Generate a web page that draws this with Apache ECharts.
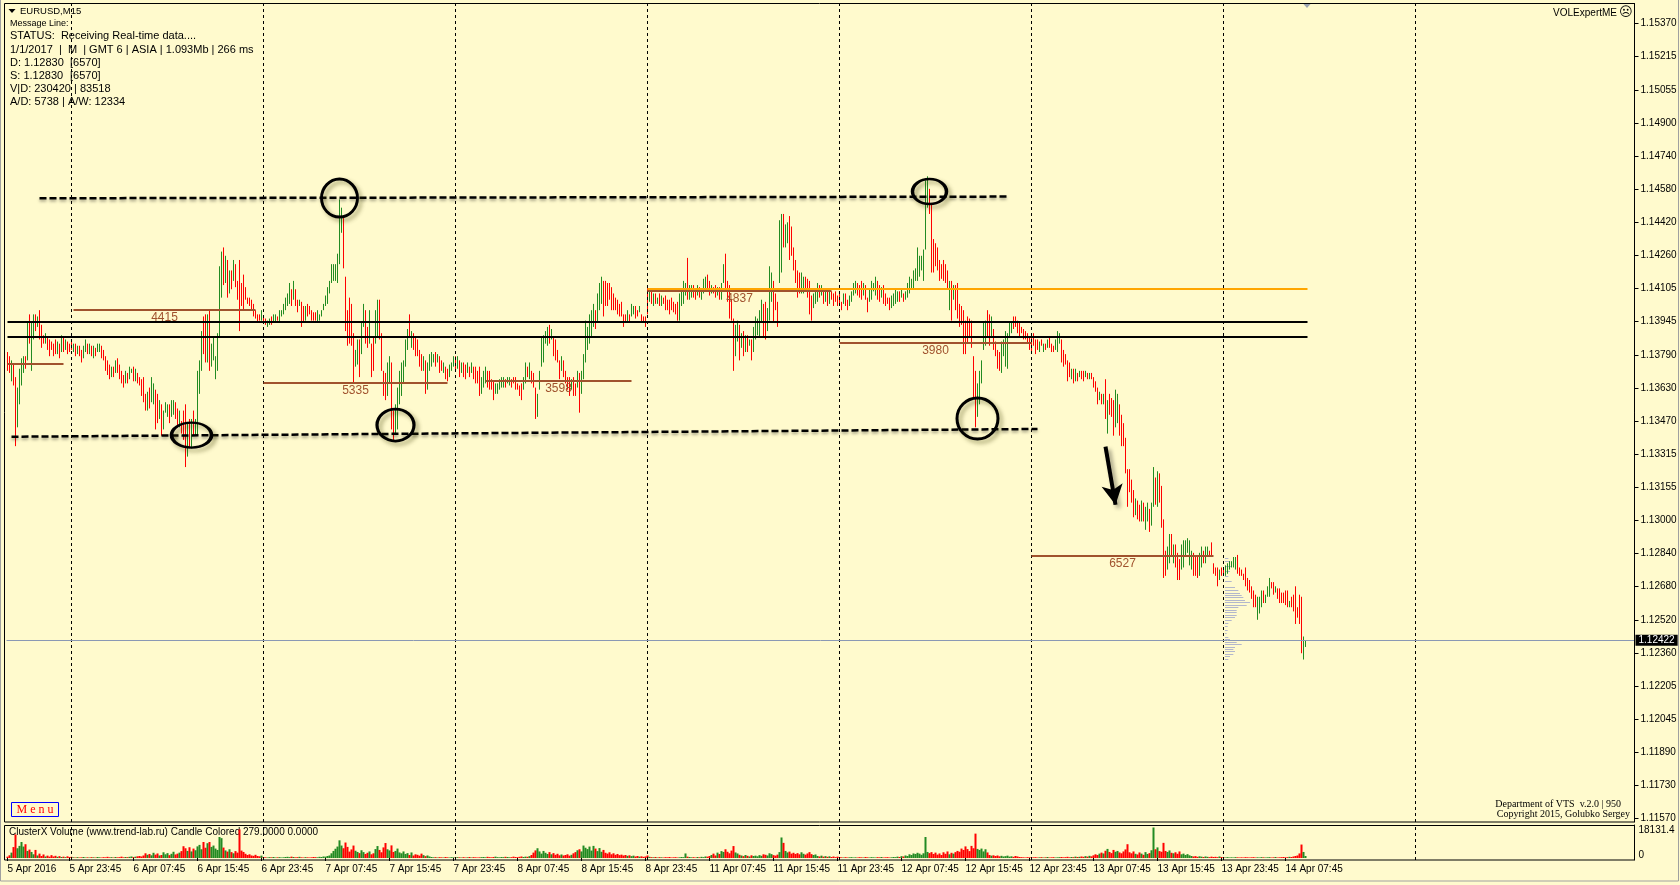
<!DOCTYPE html>
<html><head><meta charset="utf-8">
<script src="https://cdn.jsdelivr.net/npm/echarts/dist/echarts.min.js"></script>
<style>html,body{margin:0;padding:0;background:#FFFACD;overflow:hidden}#c{width:1680px;height:885px}</style>
</head><body><div id="c"></div>
<script>
// ---------- DATA ----------
// right-axis tick labels, bottom to top
const priceTickLabels = ['1.11570','1.11730','1.11890','1.12045','1.12205','1.12360','1.12520','1.12680','1.12840','1.13000','1.13155','1.13315','1.13470','1.13630','1.13790','1.13945','1.14105','1.14260','1.14420','1.14580','1.14740','1.14900','1.15055','1.15215','1.15370'];
// time-axis labels shown under the volume panel
const timeLabels = ['5 Apr 2016','5 Apr 23:45','6 Apr 07:45','6 Apr 15:45','6 Apr 23:45','7 Apr 07:45','7 Apr 15:45','7 Apr 23:45','8 Apr 07:45','8 Apr 15:45','8 Apr 23:45','11 Apr 07:45','11 Apr 15:45','11 Apr 23:45','12 Apr 07:45','12 Apr 15:45','12 Apr 23:45','13 Apr 07:45','13 Apr 15:45','13 Apr 23:45','14 Apr 07:45'];
const firstBarTime = '2016-04-05T16:00:00Z';
const lastSeparatorDay = '15 Apr';
const priceBase = 1.12000; // candle values below are in pips above this
// M15 candles: [open, close] in pips above 1.12000
const candlesOC = [
[180,171],[178,170],[166,176],[174,164],[168,135],[144,163],[155,172],[164,177],[170,178],[178,172],
[176,194],[198,184],[171,194],[186,198],[198,190],[192,197],[200,186],[193,182],[188,184],[184,189],
[187,181],[186,178],[185,181],[184,178],[186,179],[179,185],[184,177],[180,188],[187,180],[181,186],
[185,179],[184,180],[186,181],[180,184],[184,178],[179,183],[183,178],[181,175],[177,183],[180,186],
[184,179],[179,184],[183,178],[177,183],[182,178],[180,184],[180,184],[183,177],[181,176],[178,171],
[176,169],[174,167],[168,173],[173,168],[170,176],[177,170],[174,167],[171,165],[169,163],[165,171],
[170,165],[167,173],[170,172],[173,166],[166,172],[170,165],[168,164],[167,159],[168,156],[160,152],
[152,161],[163,153],[156,168],[155,165],[162,143],[160,146],[148,157],[155,140],[143,152],[151,156],
[149,155],[155,146],[149,157],[150,157],[156,148],[153,144],[144,152],[147,141],[152,138],[155,125],
[130,146],[148,134],[134,148],[152,140],[140,148],[140,171],[160,176],[171,190],[197,179],[198,175],
[175,198],[200,171],[173,184],[176,187],[167,178],[171,189],[187,221],[206,228],[230,212],[213,226],
[224,206],[208,219],[219,210],[214,224],[222,211],[214,205],[224,190],[213,202],[217,200],[211,205],
[206,203],[206,202],[205,200],[203,197],[200,196],[198,194],[198,195],[195,200],[197,194],[196,193],
[192,195],[193,196],[197,193],[194,198],[194,198],[197,195],[194,200],[197,200],[198,203],[200,206],
[202,208],[203,213],[210,202],[205,214],[210,202],[205,199],[202,205],[204,192],[202,194],[195,202],
[203,197],[202,198],[200,195],[199,195],[199,195],[194,200],[195,198],[197,200],[200,203],[202,207],
[203,211],[208,214],[213,222],[214,222],[214,222],[213,227],[222,253],[237,249],[244,220],[216,190],
[200,183],[206,184],[203,183],[189,165],[173,181],[174,186],[186,168],[179,194],[192,203],[200,184],
[192,182],[184,200],[184,168],[187,171],[184,200],[187,205],[205,186],[189,171],[171,159],[170,157],
[159,175],[165,178],[175,143],[152,138],[141,155],[143,163],[155,171],[159,175],[165,176],[173,186],
[181,191],[198,187],[182,190],[189,181],[187,178],[186,178],[181,173],[179,171],[171,178],[176,160],
[162,175],[171,179],[173,180],[175,179],[180,173],[175,179],[178,170],[176,171],[170,175],[173,167],
[172,166],[168,174],[171,175],[173,178],[178,171],[172,178],[176,168],[170,175],[175,168],[174,167],
[170,175],[173,168],[170,175],[173,167],[173,165],[171,165],[173,159],[160,168],[163,171],[165,173],
[171,163],[171,162],[167,162],[166,157],[160,165],[160,165],[162,167],[163,168],[163,168],[167,163],
[165,168],[164,168],[167,163],[168,165],[168,162],[165,162],[164,159],[165,157],[162,168],[165,175],
[173,168],[167,175],[171,165],[170,163],[163,148],[149,160],[162,171],[173,187],[175,188],[184,190],
[183,192],[193,184],[186,191],[187,178],[186,176],[181,175],[176,167],[171,178],[176,168],[171,165],
[168,162],[168,159],[162,167],[168,159],[165,159],[163,171],[170,151],[160,171],[167,179],[175,195],
[181,192],[184,198],[187,200],[192,203],[200,191],[194,208],[200,213],[203,216],[214,197],[214,202],
[213,202],[213,205],[211,200],[208,200],[206,200],[205,198],[203,197],[204,197],[198,192],[198,194],
[194,200],[198,194],[197,203],[198,202],[202,196],[200,197],[199,202],[198,194],[197,194],[197,192],
[212,198],[204,209],[209,203],[202,208],[208,203],[203,206],[208,202],[202,207],[206,203],[207,200],
[205,200],[205,198],[206,200],[204,199],[203,198],[204,195],[195,208],[202,209],[203,214],[207,213],
[225,205],[205,212],[206,212],[212,206],[210,205],[207,212],[211,206],[205,210],[208,215],[209,216],
[217,210],[214,207],[208,212],[211,208],[212,206],[207,211],[211,205],[205,213],[213,222],[227,210],
[214,204],[212,196],[205,195],[196,171],[178,193],[185,195],[193,176],[182,189],[190,178],[180,188],
[188,180],[183,186],[186,176],[180,192],[186,197],[188,196],[187,200],[194,205],[203,187],[204,186],
[190,201],[195,221],[204,218],[214,194],[208,200],[204,192],[213,243],[218,246],[246,230],[230,241],
[232,242],[245,224],[240,226],[230,219],[224,213],[219,206],[218,208],[208,218],[208,216],[216,209],
[215,206],[214,198],[207,195],[201,208],[203,210],[204,213],[212,206],[207,212],[209,203],[204,209],
[209,202],[203,209],[209,205],[208,202],[209,204],[207,202],[209,203],[204,200],[203,208],[208,202],
[205,200],[202,207],[204,209],[207,213],[208,214],[213,207],[212,206],[214,205],[207,213],[212,205],
[206,199],[204,210],[205,214],[209,213],[207,216],[214,205],[212,204],[206,211],[212,203],[208,202],
[206,203],[206,200],[201,207],[202,208],[203,210],[204,209],[209,204],[206,210],[208,204],[205,209],
[206,213],[208,216],[210,215],[210,219],[214,220],[214,230],[216,226],[219,226],[214,229],[229,262],
[249,264],[258,246],[251,218],[234,218],[232,221],[230,219],[224,214],[222,215],[224,214],[222,213],
[219,210],[200,214],[214,195],[205,212],[212,200],[213,196],[203,192],[202,193],[200,179],[195,179],
[197,184],[196,187],[195,182],[178,158],[171,144],[149,165],[155,171],[165,176],[181,194],[183,195],
[200,187],[198,183],[187,197],[191,181],[185,178],[181,172],[180,171],[170,185],[178,186],[173,190],
[172,189],[187,194],[189,194],[197,191],[197,192],[195,189],[194,187],[192,189],[191,186],[190,186],
[189,184],[187,181],[187,180],[189,183],[186,179],[186,181],[180,185],[186,183],[180,184],[184,181],
[182,186],[187,182],[184,180],[183,180],[181,186],[180,190],[184,189],[186,175],[181,173],[179,174],
[176,166],[175,168],[167,172],[172,165],[166,172],[170,166],[168,171],[171,167],[171,166],[168,171],
[170,167],[167,170],[170,167],[168,163],[166,161],[163,155],[157,161],[160,155],[155,160],[167,148],
[141,157],[160,150],[158,149],[157,140],[144,162],[146,160],[155,140],[150,135],[146,135],[139,122],
[124,106],[124,113],[119,108],[114,101],[102,110],[109,100],[107,99],[99,109],[108,99],[95,106],
[99,108],[105,94],[97,108],[106,125],[120,107],[106,123],[122,108],[116,96],[100,72],[85,73],
[76,87],[79,93],[93,82],[79,88],[88,77],[84,71],[81,71],[76,88],[77,90],[82,90],
[84,91],[78,90],[76,85],[84,73],[82,73],[82,72],[73,84],[77,87],[85,79],[79,87],
[82,87],[85,82],[89,82],[79,74],[77,73],[77,68],[71,76],[77,73],[76,73],[73,78],
[74,79],[76,80],[77,80],[77,82],[76,82],[83,74],[77,73],[76,73],[74,71],[77,68],
[72,66],[71,65],[68,62],[66,58],[64,58],[52,63],[55,63],[58,66],[66,60],[60,64],
[63,68],[63,72],[70,67],[70,64],[65,68],[67,62],[67,60],[65,60],[65,60],[66,59],
[66,58],[58,61],[63,58],[64,56],[68,50],[58,53],[64,50],[63,36],[33,44],[39,42]
];
// ClusterX volume per candle
const volumes = [
800,1600,3200,6500,14000,5800,7200,9500,6800,8200,4200,5000,3600,2200,4800,1500,2600,1200,2100,900,
1400,800,1700,900,1300,700,1100,600,800,500,1000,600,700,
400,300,500,300,400,600,300,400,300,500,400,300,600,400,300,500,400,700,400,500,300,600,400,500,800,400,600,500,700,900,600,800,1000,
1200,900,1500,2800,1900,2400,1600,3100,2000,2700,1500,1800,3400,2200,2900,1700,2500,3700,2100,2600,3200,4100,
7000,5800,4200,6400,3900,5600,4600,6900,7800,5200,9500,6100,
8800,9500,6600,7400,5600,4800,12500,11800,6200,
4500,3800,5200,3500,2800,4100,3200,17000,4400,3600,
2500,1800,2200,1500,1300,1900,1200,1000,1400,
500,400,300,500,400,600,300,400,500,300,400,600,700,500,800,600,400,500,700,400,300,500,400,300,400,600,500,400,700,600,900,800,1200,1500,
2800,4200,5500,6800,10500,7400,5800,9200,6600,3800,5100,7400,4300,3600,
2900,4600,3500,2400,3100,3900,2200,2800,5300,7100,4800,3400,6300,8900,5200,4500,7500,3600,4200,5600,3300,2800,3900,
2400,2900,1800,3300,1500,2200,1900,1400,2600,1700,1100,1500,900,
600,400,500,300,500,400,300,600,400,300,500,400,300,500,
400,300,500,300,400,600,300,500,400,300,400,500,600,400,700,500,400,600,800,500,400,600,500,700,600,400,500,800,600,500,700,900,600,800,700,1100,
1800,3200,4500,5800,3900,2600,4200,3100,2400,3500,2200,2900,1900,2500,1600,2100,1500,1800,2200,1400,1900,
2800,3500,4600,5200,3900,7400,6100,5300,6800,4400,7200,5600,4100,5900,3700,4800,
3100,2600,3400,2200,2800,1900,2400,1700,2000,1500,1800,1300,1600,1100,1400,900,1200,800,1000,700,900,
1500,700,500,400,600,300,500,400,300,500,400,600,300,400,500,300,400,600,500,2700,800,600,400,500,300,600,400,700,500,900,800,
1200,1800,2600,1500,3200,2400,4100,3600,5200,3700,2800,4400,7100,3300,2700,1900,
1500,1100,1800,1300,900,1600,1200,1400,1000,1700,1300,2200,1900,1500,2800,2300,1700,1400,2000,
3500,12200,9000,
4200,3300,3800,2600,3100,2400,2900,2200,3400,2500,2000,2700,3500,2300,1800,2100,
1200,900,1400,800,1100,700,1000,600,900,500,800,600,
400,300,500,300,400,500,300,400,300,500,400,300,600,400,300,500,400,300,500,400,600,300,400,500,300,400,600,500,800,600,1100,900,1500,1200,
2200,1800,2700,2400,3100,2600,1900,2800,12500,3600,
2900,3500,2400,3200,2000,2700,1800,3400,2500,3900,2200,3100,2600,3500,
4200,3700,5600,4800,6900,5300,4100,7200,5800,14500,
5400,4800,5600,3900,5200,3300,
1800,1400,1600,1200,1500,1000,1300,900,1100,1400,800,1000,700,1200,900,600,
500,400,300,500,400,300,400,500,300,400,500,300,400,600,300,400,500,300,400,500,600,400,500,700,400,600,500,800,600,700,900,700,1100,800,1300,1000,1600,2200,1800,2600,
3200,2700,4300,5400,3600,2900,4800,3700,4200,3300,2800,3900,5100,
8200,
3400,2800,3900,2500,2100,3300,2600,1900,3500,2400,2900,4600,
18131.4,
5200,6300,4100,3700,
9000,
4200,3600,4500,3100,2800,3400,2500,3900,2200,2600,1800,2300,1600,
1200,900,1100,700,1000,800,600,900,700,500,800,600,700,500,900,600,
400,300,500,300,400,300,500,400,300,400,300,500,400,300,400,500,300,400,300,500,400,300,400,500,300,400,600,300,400,500,600,400,500,700,600,900,1200,1500,
2700,8000,3600,1200
];
const volumeMax = 18131.4;
// value-area (POC) levels per session: [fromBar, toBar, pips, label]
const pocLevels = [[0,28,174.6,''],[33,124,200.1,'4415'],[128,220,165.4,'5335'],[239,312,166.3,'3598'],[320,412,209.3,'4837'],[416,512,184.5,'3980'],[512,603,82.7,'6527']];
const orangeLevel = [320, 650, 210.3];
const blackLevels = [194.5, 187.3];
const resistanceLine = [[16,253.5],[500,254.3]];
const supportLine = [[2,139.5],[515,143.2]];
const bidPrice = 1.12422;
// circled extremes: [bar, pips, width, height]
const circles = [[166,253.6,36,38],[92,140.3,40,25],[194,145.1,37,32],[461,256.7,34,25],[485,148.2,41,41]];
const arrowLine = [[549,134.8],[554,107]];
// today's volume profile (pips, relative volume)
const profileLevels = [81.5,79.9,77.5,75.1,72.7,70.3,67.9,66.3,65,64,62.7,61.6,60.3,59.2,58,56.8,55.5,54.4,53.3,52,50.4,48.8,47.2,45.6,44,42.8,41.6,40.5,39.2,38,36.9,35.7,34.5,33.2];
const profileVolumes = [10,15,20,15,10,20,30,40,45,50,55,60,75,65,40,35,35,35,30,20,10,8,8,5,10,15,35,50,30,25,30,25,15,10];

// ---------- BUILD ----------
const GREEN = '#228B22', RED = '#FF0000';
const AXIS_SLOTS = 814;
const TICK_STEP = (1.15370 - 1.11570) / 24;
const toAxis = p => (priceBase + p / 10000 - 1.11570) / TICK_STEP;
const MONTHS = ['Jan','Feb','Mar','Apr','May','Jun','Jul','Aug','Sep','Oct','Nov','Dec'];
const categories = [];
{
  let t = Date.parse(firstBarTime);
  for (let i = 0; i < AXIS_SLOTS; i++) {
    const d = new Date(t);
    const hh = String(d.getUTCHours()).padStart(2,'0'), mm = String(d.getUTCMinutes()).padStart(2,'0');
    const day = d.getUTCDate() + ' ' + MONTHS[d.getUTCMonth()];
    categories.push(i === 0 ? day + ' ' + d.getUTCFullYear() : day + ' ' + hh + ':' + mm);
    t += 15 * 60000;
    let nd = new Date(t);
    while (nd.getUTCDay() === 6 || nd.getUTCDay() === 0) { t += 86400000; nd = new Date(t); }
  }
}
const dayStarts = [];
for (let i = 1; i < categories.length; i++) {
  if (categories[i].endsWith(' 00:00')) { dayStarts.push(i); if (categories[i].startsWith(lastSeparatorDay)) break; }
}
const nBars = candlesOC.length;
const candleData = candlesOC.map(([o, c]) => [toAxis(o), toAxis(c), toAxis(Math.min(o, c)), toAxis(Math.max(o, c))]);
const volumeData = volumes.map((v, i) => {
  const oc = candlesOC[i] || [0, 0];
  return { value: v, itemStyle: { color: oc[1] >= oc[0] ? GREEN : RED } };
});
const showLabel = (idx, val) => idx < nBars && timeLabels.indexOf(val) >= 0;
const priceTickValues = priceTickLabels.map((_, k) => k);

const sepLines = dayStarts.map(i => ({ xAxis: i, lineStyle: { color: '#000', width: 1, type: [3, 3] } }));
const markLines = [].concat(
  sepLines,
  blackLevels.map(p => [{ coord: [0, toAxis(p)], lineStyle: { color: '#000', width: 2, type: 'solid' } }, { coord: [nBars, toAxis(p)] }]),
  pocLevels.map(([a, b, p, lab]) => [
    { coord: [a, toAxis(p)], lineStyle: { color: '#A0522D', width: 2, type: 'solid' },
      label: { show: !!lab, formatter: lab, position: 'insideMiddleBottom', distance: 2, color: '#A0522D', fontSize: 12, fontFamily: 'Liberation Sans' } },
    { coord: [b, toAxis(p)] }
  ]),
  [[{ coord: [orangeLevel[0], toAxis(orangeLevel[2])], lineStyle: { color: '#FFA500', width: 2, type: 'solid' } }, { coord: [orangeLevel[1], toAxis(orangeLevel[2])] }]],
  [resistanceLine, supportLine].map(l => [
    { coord: [l[0][0], toAxis(l[0][1])], lineStyle: { color: '#000', width: 2.5, type: [7, 3], shadowColor: 'rgba(0,0,0,0.35)', shadowBlur: 3, shadowOffsetY: 2 } },
    { coord: [l[1][0], toAxis(l[1][1])] }
  ]),
  [[{ coord: [arrowLine[0][0], toAxis(arrowLine[0][1])], symbol: 'none',
      lineStyle: { color: '#000', width: 4, type: 'solid', shadowColor: 'rgba(0,0,0,0.4)', shadowBlur: 4, shadowOffsetX: 3, shadowOffsetY: 3 } },
    { coord: [arrowLine[1][0], toAxis(arrowLine[1][1])], symbol: 'arrow', symbolSize: [16, 20] }]],
  [{ yAxis: toAxis((bidPrice - priceBase) * 10000), lineStyle: { color: '#8A98B4', width: 1, type: 'solid' },
     label: { show: true, position: 'end', formatter: bidPrice.toFixed(5), backgroundColor: '#000', color: '#fff', padding: [1, 3, 0, 3], distance: 1, fontSize: 10, fontFamily: 'Liberation Sans' } }]
);

const textStyle = (t, x, y, size, extra) => Object.assign({ type: 'text', x: x, y: y, silent: true,
  style: { text: t, font: size + 'px "Liberation Sans", Arial, sans-serif', fill: '#000', align: 'left', verticalAlign: 'middle' } }, extra || {});

const yMin = -3.5 / 33.125, yMax = 24 + (23.6 - 3.5) / 33.125;
const volPx = 30.5 / volumeMax;

const chart = echarts.init(document.getElementById('c'), null, { renderer: 'canvas' });
chart.setOption({
  animation: false,
  backgroundColor: '#FFFACD',
  grid: [
    { left: 6.5, top: 3.5, width: 1628, height: 818.5, show: false, containLabel: false, outerBoundsMode: 'none' },
    { left: 6.5, top: 825, width: 1628, height: 35, show: false, containLabel: false, outerBoundsMode: 'none' }
  ],
  xAxis: [
    { type: 'category', gridIndex: 0, data: categories, boundaryGap: true, axisLine: { show: false }, axisTick: { show: false }, axisLabel: { show: false }, splitLine: { show: false } },
    { type: 'category', gridIndex: 1, data: categories, boundaryGap: true,
      axisLine: { show: false },
      axisTick: { show: true, interval: showLabel, alignWithLabel: true, length: 3, lineStyle: { color: '#000' } },
      axisLabel: { show: true, interval: showLabel, align: 'left', margin: 4, color: '#000', fontSize: 10, fontFamily: 'Liberation Sans', hideOverlap: false },
      splitLine: { show: false } }
  ],
  yAxis: [
    { type: 'value', gridIndex: 0, position: 'right', min: yMin, max: yMax,
      axisLine: { show: true, lineStyle: { color: '#000', width: 1 } },
      axisTick: { show: true, length: 4, customValues: priceTickValues, lineStyle: { color: '#000' } },
      splitLine: { show: false },
      axisLabel: { show: true, margin: 6, color: '#000', fontSize: 10, fontFamily: 'Liberation Sans', customValues: priceTickValues,
        formatter: v => { const k = Math.round(v); return priceTickLabels[k] || ''; } } },
    { type: 'value', gridIndex: 1, position: 'right', min: -2 / volPx, max: volumeMax + 2.5 / volPx,
      axisLine: { show: true, lineStyle: { color: '#000', width: 1 } },
      axisTick: { show: false }, splitLine: { show: false },
      axisLabel: { show: true, margin: 4, color: '#000', fontSize: 10, fontFamily: 'Liberation Sans', customValues: [0, volumeMax],
        formatter: v => Math.abs(v) < 1e-6 ? '{b|0}' : '{t|' + volumeMax.toFixed(1) + '}',
        rich: { t: { padding: [6, 0, 0, 0], fontSize: 10, fontFamily: 'Liberation Sans', color: '#000' }, b: { padding: [0, 0, 5, 0], fontSize: 10, fontFamily: 'Liberation Sans', color: '#000' } } } }
  ],
  series: [
    { type: 'candlestick', name: 'EURUSD,M15', xAxisIndex: 0, yAxisIndex: 0, data: candleData, large: false, barWidth: 1,
      itemStyle: { color: GREEN, color0: RED, borderColor: GREEN, borderColor0: RED, borderWidth: 1 },
      markLine: { silent: true, symbol: ['none', 'none'], precision: 6, label: { show: false }, emphasis: { disabled: true }, data: markLines },
      markPoint: { silent: true, symbol: 'circle', label: { show: false },
        itemStyle: { color: 'rgba(0,0,0,0)', borderColor: '#000', borderWidth: 3, shadowColor: 'rgba(60,60,0,0.45)', shadowBlur: 4, shadowOffsetX: 3, shadowOffsetY: 3 },
        data: circles.map(([i, p, w, h]) => ({ coord: [i, toAxis(p)], symbolSize: [w, h] })) } },
    { type: 'custom', name: 'profile', xAxisIndex: 0, yAxisIndex: 0, silent: true, clip: false,
      data: profileLevels.map((p, k) => [dayStarts[6], toAxis(p), profileVolumes[k]]),
      encode: { x: 0, y: 1 },
      renderItem: (params, api) => {
        const pt = api.coord([api.value(0), api.value(1)]);
        return { type: 'rect', shape: { x: pt[0] + 1.5, y: Math.round(pt[1]), width: api.value(2) / 3, height: 1 }, style: { fill: '#B3B7CC' } };
      } },
    { type: 'bar', name: 'ClusterX Volume', xAxisIndex: 1, yAxisIndex: 1, data: volumeData, barWidth: 2, barGap: '0%',
      markLine: { silent: true, symbol: ['none', 'none'], label: { show: false }, data: sepLines } }
  ],
  graphic: [
    { type: 'rect', silent: true, z: 100, shape: { x: 4.5, y: 3.5, width: 1630, height: 818.5 }, style: { fill: 'none', stroke: '#000', lineWidth: 1 } },
    { type: 'rect', silent: true, z: 100, shape: { x: 4.5, y: 825.5, width: 1630, height: 34.5 }, style: { fill: 'none', stroke: '#000', lineWidth: 1 } },
    { type: 'polygon', silent: true, shape: { points: [[8.5, 9], [15.5, 9], [12, 13]] }, style: { fill: '#000' } },
    textStyle('EURUSD,M15', 20, 11.5, 9.5),
    textStyle('Message Line:', 10, 23.5, 9),
    textStyle('STATUS:  Receiving Real-time data....', 10, 36, 11),
    textStyle('1/1/2017  |  M  | GMT 6 | ASIA | 1.093Mb | 266 ms', 10, 50, 11),
    textStyle('D: 1.12830', 10, 63, 11), textStyle('[6570]', 70, 63, 11),
    textStyle('S: 1.12830', 10, 76, 11), textStyle('[6570]', 70, 76, 11),
    textStyle('V|D: 230420 | 83518', 10, 89, 11),
    textStyle('A/D: 5738 | A/W: 12334', 10, 101.5, 11),
    { type: 'text', x: 1617, y: 13, silent: true, style: { text: 'VOLExpertME', font: '10px "Liberation Sans", Arial', fill: '#000', align: 'right', verticalAlign: 'middle' } },
    { type: 'text', x: 1619, y: 13, silent: true, style: { text: '\u2639', font: '13px "DejaVu Sans"', fill: '#000', align: 'left', verticalAlign: 'middle' } },
    { type: 'polygon', silent: true, shape: { points: [[1303, 3.5], [1311, 3.5], [1307, 8]] }, style: { fill: '#9AA3B0' } },
    { type: 'text', x: 1621, y: 804, silent: true, style: { text: 'Department of VTS  v.2.0 | 950', font: '10px "Liberation Serif", serif', fill: '#000', align: 'right', verticalAlign: 'middle' } },
    { type: 'text', x: 1630, y: 814.5, silent: true, style: { text: 'Copyright 2015, Golubko Sergey', font: '10px "Liberation Serif", serif', fill: '#000', align: 'right', verticalAlign: 'middle' } },
    { type: 'rect', silent: true, shape: { x: 11.5, y: 802.5, width: 47, height: 14 }, style: { fill: '#FFFACD', stroke: '#0000FF', lineWidth: 1 } },
    { type: 'text', x: 35, y: 810, silent: true, style: { text: 'M e n u', font: '12px "Liberation Serif", serif', fill: '#FF0000', align: 'center', verticalAlign: 'middle' } },
    textStyle('ClusterX Volume (www.trend-lab.ru) Candle Colored 279.0000 0.0000', 9, 832.5, 10),
    { type: 'rect', silent: true, shape: { x: 0.5, y: -1, width: 1678, height: 882 }, style: { fill: 'none', stroke: '#A0A0A0', lineWidth: 1 } }
  ]
});
</script></body></html>
